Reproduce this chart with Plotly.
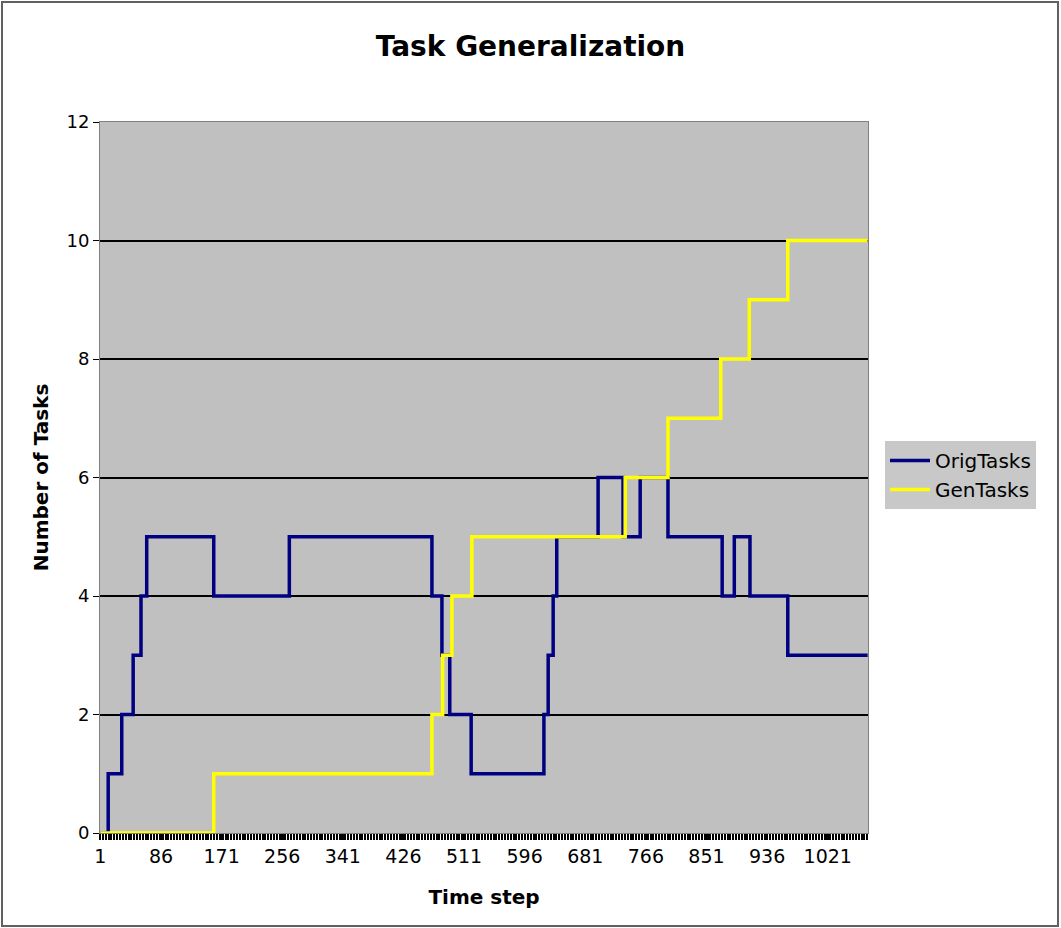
import numpy as np
import plotly.graph_objects as go

# Data: step change points (time step where the new value starts) and values
n_steps = 1077
orig_start = [1, 12, 31, 47, 58, 66, 160, 266, 466, 480, 491, 521, 623, 629, 636, 641,
              699, 734, 758, 797, 873, 890, 912, 965]
orig_value = [0, 1, 2, 3, 4, 5, 4, 5, 4, 3, 2, 1, 2, 3, 4, 5,
              6, 5, 6, 5, 4, 5, 4, 3]
gen_start = [1, 160, 466, 481, 494, 522, 737, 797, 871, 911, 965]
gen_value = [0, 1, 2, 3, 4, 5, 6, 7, 8, 9, 10]
tick_labels = [1, 86, 171, 256, 341, 426, 511, 596, 681, 766, 851, 936, 1021]


def expand(starts, values, n):
    t = np.arange(1, n + 1)
    idx = np.searchsorted(np.array(starts), t, side="right") - 1
    return t, np.array(values)[idx]


t, orig = expand(orig_start, orig_value, n_steps)
_, gen = expand(gen_start, gen_value, n_steps)

fig = go.Figure()
fig.add_trace(go.Scatter(x=t, y=orig, mode="lines", name="OrigTasks",
                         line=dict(color="#000080", width=3.5, shape="hv")))
fig.add_trace(go.Scatter(x=t, y=gen, mode="lines", name="GenTasks",
                         line=dict(color="#FFFF00", width=3.5, shape="hv")))

font_family = "DejaVu Sans, Verdana, sans-serif"
L, R, T, B = 100, 193, 122, 95
W, H = 1061, 928
pw, ph = W - L - R, H - T - B

fig.update_layout(
    width=W, height=H,
    margin=dict(l=L, r=R, t=T, b=B, pad=0),
    paper_bgcolor="white",
    plot_bgcolor="#C0C0C0",
    font=dict(family=font_family, color="black", size=19),
    title=dict(text="<b>Task Generalization</b>", x=0.5, xref="container",
               y=1 - 46 / H, yref="container", yanchor="middle", xanchor="center",
               font=dict(size=28, family=font_family)),
    legend=dict(x=(885 - L) / pw, y=(H - B - 475) / ph, xanchor="left", yanchor="middle",
                bgcolor="#C8C8C8", font=dict(size=20), tracegroupgap=0,
                itemwidth=40),
    showlegend=True,
)

fig.update_xaxes(
    range=[0.5, n_steps + 0.5],
    tickvals=tick_labels,
    ticktext=[str(v) for v in tick_labels],
    ticks="outside", ticklen=6, tickcolor="black", tickwidth=2,
    minor=dict(ticks="outside", ticklen=6, tickcolor="black", tickwidth=2,
               tick0=0.5, dtick=4),
    showgrid=False, zeroline=False,
    showline=True, linecolor="#808080", linewidth=1, mirror=True,
    title=dict(text="<b>Time step</b>", font=dict(size=20), standoff=24),
    tickfont=dict(size=19),
)
fig.update_yaxes(
    range=[0, 12], tickvals=[0, 2, 4, 6, 8, 10, 12],
    ticks="outside", ticklen=6, tickcolor="black", tickwidth=1,
    showgrid=True, gridcolor="black", gridwidth=1.5,
    zeroline=False,
    showline=True, linecolor="#808080", linewidth=1, mirror=True,
    title=dict(text="<b>Number of Tasks</b>", font=dict(size=20), standoff=12),
    tickfont=dict(size=18),
)

# Outer chart border
fig.add_shape(type="rect", xref="paper", yref="paper",
              x0=(2 - L) / pw, x1=(W - 3 - L) / pw,
              y0=(H - B - (H - 2)) / ph, y1=(H - B - 2) / ph,
              line=dict(color="#606060", width=2), fillcolor="rgba(0,0,0,0)",
              layer="above")

fig.write_html("out.html", config={"displayModeBar": False},
               post_script="document.body.style.margin='0';")
